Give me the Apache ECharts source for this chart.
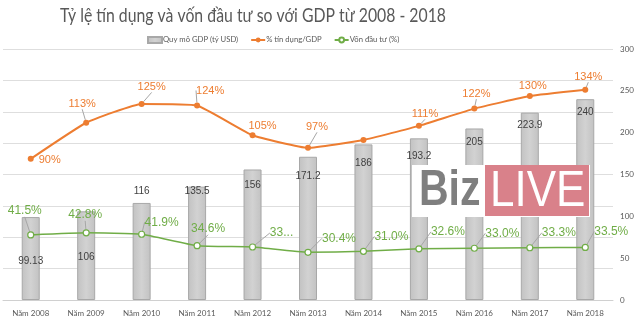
<!DOCTYPE html>
<html>
<head>
<meta charset="utf-8">
<style>
  html, body { margin: 0; padding: 0; background: #ffffff; }
  #chart { width: 640px; height: 328px; }
</style>
<script src="https://cdn.jsdelivr.net/npm/echarts@6/dist/echarts.min.js"></script>
</head>
<body>
<div id="chart"></div>
<script>
// Categories and series values
const years = ['Năm 2008', 'Năm 2009', 'Năm 2010', 'Năm 2011', 'Năm 2012', 'Năm 2013',
               'Năm 2014', 'Năm 2015', 'Năm 2016', 'Năm 2017', 'Năm 2018'];
const gdpSize = [99.13, 106, 116, 135.5, 156, 171.2, 186, 193.2, 205, 223.9, 240];          // tỷ USD
const creditRatio = [90, 113, 125, 124, 105, 97, 102, 111, 122, 130, 134];                    // %
const investRatio = [41.5, 42.8, 41.9, 34.6, 33.8, 30.4, 31.0, 32.6, 33.0, 33.3, 33.5];       // %
const creditText = ['90%', '113%', '125%', '124%', '105%', '97%', '', '111%', '122%', '130%', '134%'];
const investText = ['41.5%', '42.8%', '41.9%', '34.6%', '33...', '30.4%', '31.0%', '32.6%', '33.0%', '33.3%', '33.5%'];
const rightTicks = [0, 50, 100, 150, 200, 250, 300];
const titleText = 'Tỷ lệ tín dụng và vốn đầu tư so với GDP từ 2008 - 2018';

const FONT = 'Lato, "Noto Sans", sans-serif';
const LABEL_FONT = '"Liberation Sans", Arial, sans-serif';
const ORANGE = '#ED7D31';
const GREEN = '#70AD47';
const TEXT = '#595959';

// label nudges (dx, dy) from each point, and which labels keep a leader line
const creditShift = [[19, 1], [-4, -19], [10, -17], [13, -15], [10, -9], [9, -21], [0, 0],
                     [6, -12], [2, -15], [3, -10], [3, -13]];
const creditLeader = [false, true, true, true, false, true, false, true, true, false, true];
const investShift = [[-6, -24], [-1, -18], [20, -12], [11, -17], [29, -14], [31, -14],
                     [28, -15], [29, -17], [28, -15], [29, -15], [26, -16]];
const gdpShift = [34, 36, -22, -5, 6, 9, 9, 8, 4, 3, 3];

const chart = echarts.init(document.getElementById('chart'));

chart.setOption({
  animation: false,
  backgroundColor: '#ffffff',
  textStyle: { fontFamily: FONT },
  legend: {
    left: 147,
    top: 36,
    padding: 0,
    itemWidth: 14,
    itemHeight: 6,
    itemGap: 12,
    textStyle: { fontFamily: FONT, fontSize: 7.7, color: TEXT, padding: [0, 0, 0, -4] },
    data: [
      { name: 'Quy mô GDP (tỷ USD)', icon: 'rect' },
      { name: '% tín dụng/GDP' },
      { name: 'Vốn đầu tư (%)' }
    ]
  },
  grid: { left: 3, right: 27, top: 49, bottom: 28 },
  xAxis: {
    type: 'category',
    data: years,
    axisTick: { show: false },
    axisLine: { lineStyle: { color: '#d0d0d0' } },
    axisLabel: { fontFamily: FONT, fontSize: 8, color: TEXT, margin: 9 }
  },
  yAxis: [
    {
      type: 'value', min: 0, max: 160, interval: 20,
      axisLabel: { show: false },
      axisLine: { show: false },
      axisTick: { show: false },
      splitLine: { lineStyle: { color: '#dedede' } }
    },
    {
      type: 'value', position: 'right',
      min: rightTicks[0], max: rightTicks[rightTicks.length - 1], interval: 50,
      axisLabel: { fontFamily: FONT, fontSize: 8, color: TEXT, margin: 7 },
      axisLine: { show: false },
      axisTick: { show: false },
      splitLine: { show: false }
    }
  ],
  series: [
    {
      name: 'Quy mô GDP (tỷ USD)',
      type: 'bar',
      yAxisIndex: 1,
      barWidth: 18,
      data: gdpSize,
      itemStyle: {
        color: new echarts.graphic.LinearGradient(0, 0, 1, 0, [
          { offset: 0, color: '#c2c2c2' },
          { offset: 0.5, color: '#d2d2d2' },
          { offset: 1, color: '#c2c2c2' }
        ]),
        borderColor: '#a8a8a8',
        borderWidth: 1
      },
      label: {
        show: true,
        position: 'insideTop',
        distance: 5,
        fontFamily: LABEL_FONT,
        fontSize: 10,
        color: '#3f3f3f',
        formatter: p => String(p.value)
      },
      labelLayout: p => ({ dy: gdpShift[p.dataIndex] }),
      z: 1
    },
    {
      name: '% tín dụng/GDP',
      type: 'line',
      yAxisIndex: 0,
      data: creditRatio.map((v, i) => ({ value: v, labelLine: { show: creditLeader[i] } })),
      smooth: 0.12,
      symbol: 'circle',
      symbolSize: 6,
      lineStyle: { color: ORANGE, width: 2 },
      itemStyle: { color: ORANGE },
      label: {
        show: true,
        position: 'inside',
        fontFamily: LABEL_FONT,
        fontSize: 11,
        color: ORANGE,
        formatter: p => creditText[p.dataIndex]
      },
      labelLine: { show: true, lineStyle: { color: '#a6a6a6', width: 1 } },
      labelLayout: p => ({ dx: creditShift[p.dataIndex][0], dy: creditShift[p.dataIndex][1] }),
      z: 3
    },
    {
      name: 'Vốn đầu tư (%)',
      type: 'line',
      yAxisIndex: 0,
      data: investRatio,
      smooth: 0.12,
      symbol: 'circle',
      symbolSize: 6,
      lineStyle: { color: GREEN, width: 1.5 },
      itemStyle: { color: '#ffffff', borderColor: GREEN, borderWidth: 1.2 },
      label: {
        show: true,
        position: 'inside',
        fontFamily: LABEL_FONT,
        fontSize: 12,
        color: GREEN,
        formatter: p => investText[p.dataIndex]
      },
      labelLine: { show: true, lineStyle: { color: '#a6a6a6', width: 1 } },
      labelLayout: p => ({ dx: investShift[p.dataIndex][0], dy: investShift[p.dataIndex][1] }),
      z: 3
    }
  ],
  graphic: [
    // chart title, set in a narrow face
    {
      type: 'text', left: 60, top: 6, scaleX: 0.79, z: 100,
      style: { text: titleText, fill: TEXT, font: '20px Lato, "Noto Sans", sans-serif' }
    },
    // BizLIVE mark
    {
      type: 'rect', z: 100, shape: { x: 412, y: 165, width: 178, height: 52 },
      style: { fill: '#ffffff' }
    },
    {
      type: 'rect', z: 101, shape: { x: 485, y: 165, width: 104, height: 51 },
      style: { fill: '#d9818a' }
    },
    {
      type: 'text', z: 102, x: 419, y: 191, scaleX: 0.82,
      style: {
        text: 'Biz', fill: '#7f7f7f', font: 'bold 50px "Liberation Sans", Arial, sans-serif',
        textVerticalAlign: 'middle'
      }
    },
    {
      type: 'text', z: 102, x: 490, y: 192, scaleX: 0.88,
      style: {
        text: 'LIVE', fill: '#ffffff', font: '50px "Liberation Sans", Arial, sans-serif',
        textVerticalAlign: 'middle'
      }
    }
  ]
});
</script>
</body>
</html>
